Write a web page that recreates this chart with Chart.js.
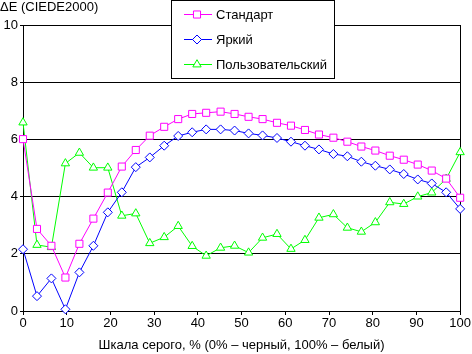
<!DOCTYPE html>
<html>
<head>
<meta charset="utf-8">
<script src="https://cdn.jsdelivr.net/npm/chart.js@4/dist/chart.umd.min.js"></script>
<style>
  body { margin: 0; background: #fff; }
  #wrap { width: 472px; height: 354px; }
</style>
</head>
<body>
<div id="wrap"><canvas id="chart" width="472" height="354"></canvas></div>
<script>
// gray level, % (32 steps)
const grayX = [0, 3.2, 6.5, 9.7, 12.9, 16.1, 19.4, 22.6, 25.8, 29.0, 32.3, 35.5, 38.7, 41.9, 45.2, 48.4,
  51.6, 54.8, 58.1, 61.3, 64.5, 67.7, 71.0, 74.2, 77.4, 80.6, 83.9, 87.1, 90.3, 93.5, 96.8, 100];

const standardDE = [6.01, 2.87, 2.28, 1.17, 2.35, 3.23, 4.14, 5.05, 5.63, 6.13, 6.44, 6.71, 6.89, 6.93, 6.97, 6.89,
  6.79, 6.71, 6.58, 6.48, 6.33, 6.17, 6.06, 5.92, 5.75, 5.61, 5.43, 5.29, 5.12, 4.91, 4.63, 3.96];
const brightDE = [2.16, 0.52, 1.14, 0.06, 1.35, 2.28, 3.45, 4.15, 5.03, 5.37, 5.78, 6.12, 6.25, 6.35, 6.35, 6.31,
  6.21, 6.14, 6.05, 5.92, 5.78, 5.65, 5.49, 5.41, 5.22, 5.08, 4.95, 4.79, 4.60, 4.46, 4.15, 3.57];
const customDE = [6.59, 2.31, 2.23, 5.16, 5.53, 5.01, 5.01, 3.33, 3.41, 2.37, 2.58, 2.97, 2.27, 1.93, 2.21, 2.28,
  2.04, 2.56, 2.69, 2.17, 2.48, 3.26, 3.38, 2.91, 2.77, 3.10, 3.80, 3.74, 4.00, 4.14, 4.62, 5.55];

const seriesNames = ['Стандарт', 'Яркий', 'Пользовательский'];
const yTitle = 'ΔE (CIEDE2000)';
const xTitle = 'Шкала серого, % (0% – черный, 100% – белый)';

const FONT = '"Liberation Sans", Arial, sans-serif';
const FSIZE = 13;

function pts(arr) {
  return arr.map((v, i) => ({ x: grayX[i], y: v }));
}

// y title at top-left + boxed legend over the plot
const overlay = {
  id: 'overlay',
  afterDraw(chart) {
    const ctx = chart.ctx;
    ctx.save();
    ctx.font = FSIZE + 'px ' + FONT;
    ctx.fillStyle = '#000';
    ctx.textBaseline = 'middle';
    ctx.textAlign = 'left';
    ctx.fillText(yTitle, 0, 7);

    // legend box
    ctx.fillStyle = '#fff';
    ctx.fillRect(171, 0, 164, 79);
    ctx.strokeStyle = '#000';
    ctx.lineWidth = 1;
    ctx.strokeRect(171.5, 0.5, 163, 78);

    const rows = [14, 39, 64];
    chart.data.datasets.forEach((ds, i) => {
      const y = rows[i] + 0.5;
      ctx.strokeStyle = ds.borderColor;
      ctx.lineWidth = 1;
      ctx.beginPath();
      ctx.moveTo(184, y);
      ctx.lineTo(212, y);
      ctx.stroke();
      ctx.fillStyle = '#fff';
      ctx.strokeStyle = ds.borderColor;
      Chart.helpers.drawPoint(ctx, {
        pointStyle: ds.pointStyle,
        radius: ds.pointRadius,
        borderWidth: 1
      }, 197, y);
      ctx.fillStyle = '#000';
      ctx.fillText(ds.label, 216, rows[i] + 1);
    });
    ctx.restore();
  }
};

const lineDs = (label, data, color, style, r) => ({
  label: label,
  data: pts(data),
  borderColor: color,
  backgroundColor: '#fff',
  borderWidth: 1,
  pointStyle: style,
  pointRadius: r,
  pointBorderColor: color,
  pointBackgroundColor: '#fff',
  pointBorderWidth: 1,
  tension: 0,
  clip: false
});

new Chart(document.getElementById('chart'), {
  type: 'line',
  data: {
    datasets: [
      lineDs(seriesNames[0], standardDE, '#ff00ff', 'rect', 5),
      lineDs(seriesNames[1], brightDE, '#0000ff', 'rectRot', 4.5),
      lineDs(seriesNames[2], customDE, '#00ff00', 'triangle', 4.8)
    ]
  },
  options: {
    responsive: false,
    animation: false,
    layout: { padding: { top: 25, right: 10, left: 0, bottom: 0 } },
    plugins: { legend: { display: false }, tooltip: { enabled: false } },
    scales: {
      x: {
        type: 'linear',
        min: 0, max: 100,
        afterFit(scale) { scale.height = 43; },
        ticks: { stepSize: 10, color: '#000', font: { family: FONT, size: FSIZE }, padding: 1, maxRotation: 0 },
        grid: {
          color: c => (c.tick && c.tick.value === 100 ? '#000' : 'rgba(0,0,0,0)'),
          tickColor: '#000',
          tickLength: 4,
          lineWidth: 1
        },
        border: { color: '#000', width: 1 },
        title: { display: true, text: xTitle, color: '#000', font: { family: FONT, size: FSIZE }, padding: { top: 0, bottom: 1 } }
      },
      y: {
        min: 0, max: 10,
        afterFit(scale) { scale.width = 23; },
        ticks: { stepSize: 2, color: '#000', font: { family: FONT, size: FSIZE }, padding: 2 },
        grid: { color: '#000', tickColor: '#000', tickLength: 3, lineWidth: 1 },
        border: { color: '#000', width: 1 }
      }
    }
  },
  plugins: [overlay]
});
</script>
</body>
</html>
